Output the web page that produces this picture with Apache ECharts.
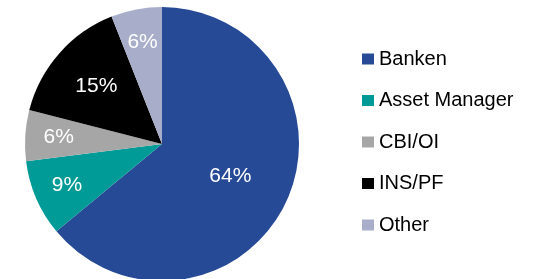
<!DOCTYPE html>
<html>
<head>
<meta charset="utf-8">
<script src="https://cdn.jsdelivr.net/npm/echarts@6/dist/echarts.min.js"></script>
<style>
  html, body { margin: 0; padding: 0; background: #fff; }
  #chart { width: 539px; height: 279px; }
</style>
</head>
<body>
<div id="chart"></div>
<script>
var categories = ['Banken', 'Asset Manager', 'CBI/OI', 'INS/PF', 'Other'];
var shares = [64, 9, 6, 15, 6];
var colors = ['#264a95', '#009b97', '#a6a6a6', '#000000', '#a8aec9'];
// how far out each label sits (which ring its label belongs to)
var labelRing = ['inner', 'outer', 'outer', 'mid', 'outer'];

var chart = echarts.init(document.getElementById('chart'));

var center = [162, 144];
var R = 137;

function pieData(ring) {
  return categories.map(function (name, i) {
    return {
      name: name,
      value: shares[i],
      label: { show: labelRing[i] === ring }
    };
  });
}

var labelStyle = {
  position: 'inside',
  formatter: '{c}%',
  color: '#ffffff',
  fontFamily: 'Liberation Sans, Arial, sans-serif',
  fontSize: 21
};

// sectors, no labels
var series = [{
  type: 'pie',
  center: center,
  radius: [0, R],
  startAngle: 90,
  clockwise: true,
  avoidLabelOverlap: false,
  silent: true,
  itemStyle: {
    color: function (p) { return colors[p.dataIndex]; },
    borderWidth: 0
  },
  label: labelStyle,
  labelLine: { show: false },
  data: pieData('none')
}];

// transparent rings that only carry labels
[['inner', 8], ['mid', 32], ['outer', 64]].forEach(function (r) {
  series.push({
    type: 'pie',
    center: center,
    radius: [r[1], R],
    startAngle: 90,
    clockwise: true,
    avoidLabelOverlap: false,
    silent: true,
    legendHoverLink: false,
    itemStyle: { color: 'rgba(0,0,0,0)', borderWidth: 0 },
    label: labelStyle,
    labelLine: { show: false },
    data: pieData(r[0])
  });
});

chart.setOption({
  animation: false,
  color: colors,
  legend: {
    data: categories,
    orient: 'vertical',
    left: 357,
    top: 44,
    itemWidth: 12,
    itemHeight: 11,
    itemGap: 21.5,
    icon: 'rect',
    selectedMode: false,
    textStyle: {
      color: '#000',
      fontFamily: 'Liberation Sans, Arial, sans-serif',
      fontSize: 20
    }
  },
  series: series
});
</script>
</body>
</html>
